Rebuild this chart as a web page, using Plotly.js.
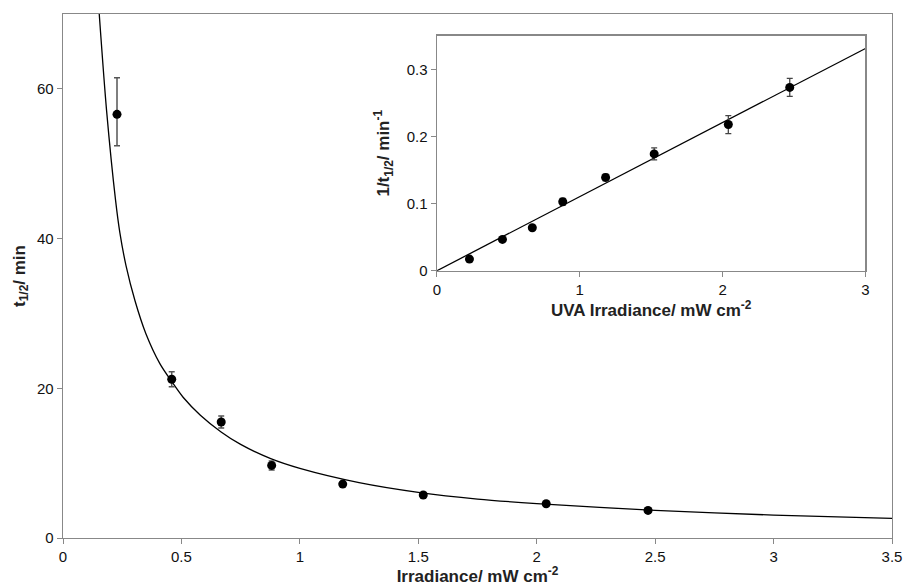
<!DOCTYPE html>
<html><head><meta charset="utf-8">
<script src="https://cdn.plot.ly/plotly-3.0.1.min.js"></script>
<style>html,body{margin:0;padding:0;background:#fff}</style>
</head><body>
<div id="chart" style="width:903px;height:586px"></div>
<script>
// Irradiance (mW cm-2)
const irradiance = [0.228, 0.459, 0.668, 0.881, 1.181, 1.521, 2.04, 2.47];
// Half-life t1/2 (min) with error (upper / lower)
const halfLife = [56.6, 21.2, 15.5, 9.7, 7.2, 5.75, 4.57, 3.69];
const halfLifeErrUp = [4.9, 1.0, 0.8, 0.6, 0.3, 0.3, 0.3, 0.3];
const halfLifeErrDown = [4.2, 1.0, 0.8, 0.6, 0.3, 0.3, 0.3, 0.3];
// Inverse half-life 1/t1/2 (min-1) with error
const invHalfLife = [0.0174, 0.0467, 0.064, 0.1028, 0.139, 0.174, 0.2177, 0.273];
const invHalfLifeErr = [0.002, 0.002, 0.002, 0.005, 0.005, 0.009, 0.0134, 0.0134];
// Fitted curve on main chart
const fitCurveX = [0.153, 0.184, 0.222, 0.240, 0.266, 0.304, 0.350, 0.409, 0.459, 0.507, 0.58, 0.666, 0.75, 0.877, 1.0, 1.25, 1.5, 1.75, 2.0, 2.5, 3.0, 3.5];
const fitCurveY = [70, 57.1, 45.1, 40.8, 36.4, 31.7, 27.3, 23.3, 20.9, 18.8, 16.4, 14.2, 12.5, 10.6, 9.3, 7.4, 6.1, 5.2, 4.6, 3.68, 3.06, 2.62];
// Linear fit in inset
const fitLineX = [0, 3];
const fitLineY = [0, 0.331];

const fam = 'Liberation Sans, Arial, sans-serif';
const tickFont = {family: fam, size: 15, color: '#111'};
const titleFont = {family: fam, size: 17, color: '#222'};

const traces = [
  {x: fitCurveX, y: fitCurveY, mode: 'lines', line: {color: '#000', width: 1.3, shape: 'spline', smoothing: 0.8}, xaxis: 'x', yaxis: 'y', hoverinfo: 'skip'},
  {x: irradiance, y: halfLife, mode: 'markers', marker: {color: '#000', size: 9},
   error_y: {type: 'data', symmetric: false, array: halfLifeErrUp, arrayminus: halfLifeErrDown, visible: true, color: '#555', thickness: 1.5, width: 3},
   xaxis: 'x', yaxis: 'y'},
  {x: fitLineX, y: fitLineY, mode: 'lines', line: {color: '#000', width: 1.3}, xaxis: 'x2', yaxis: 'y2', hoverinfo: 'skip'},
  {x: irradiance, y: invHalfLife, mode: 'markers', marker: {color: '#000', size: 9},
   error_y: {type: 'data', array: invHalfLifeErr, visible: true, color: '#444', thickness: 1.3, width: 3},
   xaxis: 'x2', yaxis: 'y2'}
];

const axisCommon = {
  showgrid: false, zeroline: false, showline: true, linecolor: '#888', linewidth: 1.3, mirror: true,
  ticks: 'outside', ticklen: 5, tickcolor: '#888', tickfont: tickFont
};

const layout = {
  width: 903, height: 586,
  margin: {l: 63, r: 11, t: 14, b: 48},
  paper_bgcolor: '#fff', plot_bgcolor: '#fff',
  showlegend: false,
  font: tickFont,
  xaxis: Object.assign({}, axisCommon, {
    domain: [0, 1], range: [0, 3.5], tickvals: [0, 0.5, 1, 1.5, 2, 2.5, 3, 3.5],
    ticktext: ['0', '0.5', '1', '1.5', '2', '2.5', '3', '3.5'],
    title: {text: '<b>Irradiance/ mW cm<sup>-2</sup></b>', font: titleFont, standoff: 2}
  }),
  yaxis: Object.assign({}, axisCommon, {
    domain: [0, 1], range: [0, 70], tickvals: [0, 20, 40, 60],
    title: {text: '<b>t<sub>1/2</sub>/ min</b>', font: titleFont, standoff: 7}
  }),
  xaxis2: Object.assign({}, axisCommon, {
    domain: [0.451, 0.968], anchor: 'y2', range: [0, 3], tickvals: [0, 1, 2, 3],
    title: {text: '<b>UVA Irradiance/ mW cm<sup>-2</sup></b>', font: titleFont, standoff: 6}
  }),
  yaxis2: Object.assign({}, axisCommon, {
    domain: [0.510, 0.9586], anchor: 'x2', range: [0, 0.35], tickvals: [0, 0.1, 0.2, 0.3],
    ticktext: ['0', '0.1', '0.2', '0.3'],
    title: {text: '<b>1/t<sub>1/2</sub>/ min<sup>-1</sup></b>', font: titleFont, standoff: 12}
  })
};

Plotly.newPlot('chart', traces, layout, {displayModeBar: false, staticPlot: true});
</script>
</body></html>
